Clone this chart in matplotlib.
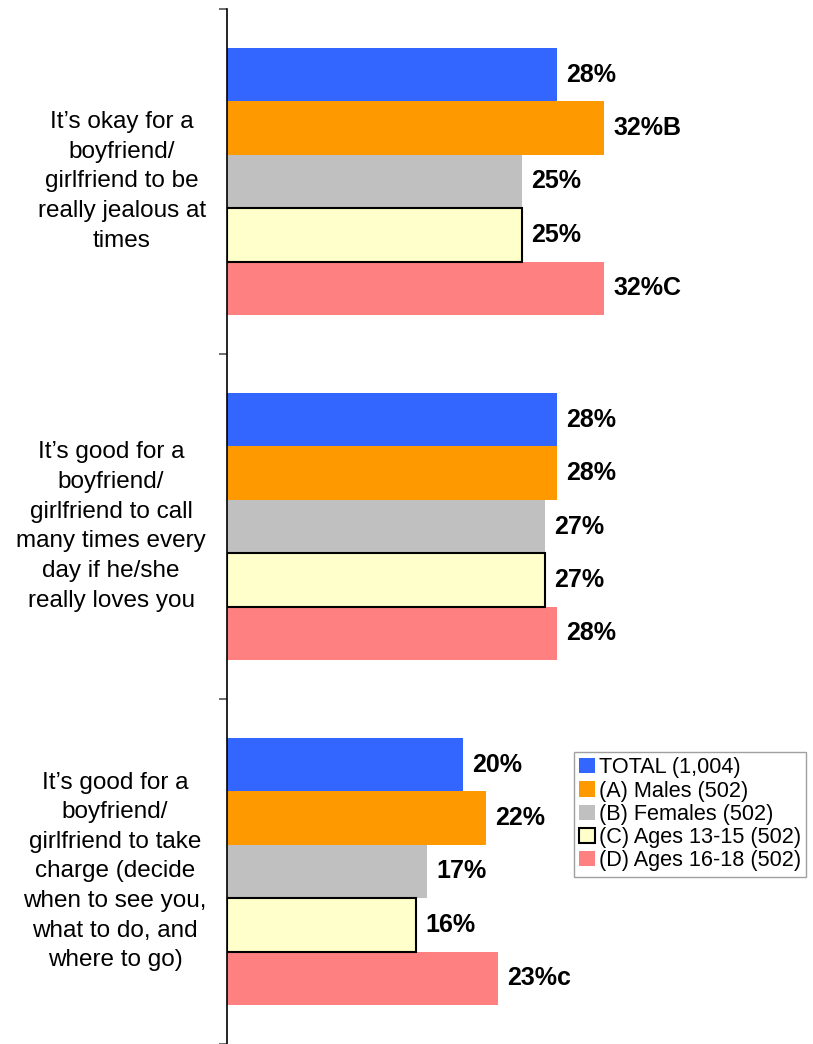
import numpy as np
import matplotlib
matplotlib.use("Agg")
from matplotlib import pyplot as plt
import matplotlib.transforms as mtransforms

plt.rcParams['font.family'] = ['Liberation Sans', 'DejaVu Sans']

# data
questions = [
    "It\u2019s okay for a\nboyfriend/\ngirlfriend to be\nreally jealous at\ntimes",
    "It\u2019s good for a\nboyfriend/\ngirlfriend to call\nmany times every\nday if he/she\nreally loves you",
    "It\u2019s good for a\nboyfriend/\ngirlfriend to take\ncharge (decide\nwhen to see you,\nwhat to do, and\nwhere to go)",
]
series_names = ["TOTAL (1,004)", "(A) Males (502)", "(B) Females (502)",
                "(C) Ages 13-15 (502)", "(D) Ages 16-18 (502)"]
total = [28, 28, 20]
males = [32, 28, 22]
females = [25, 27, 17]
ages_13_15 = [25, 27, 16]
ages_16_18 = [32, 28, 23]
sig_letters = [
    ["", "B", "", "", "C"],
    ["", "", "", "", ""],
    ["", "", "", "", "c"],
]

series = [total, males, females, ages_13_15, ages_16_18]
colors = ['#3366FF', '#FF9900', '#C0C0C0', '#FFFFCC', '#FF8080']
edges = [None, None, None, 'black', None]

fig = plt.figure(figsize=(8.13, 10.44), dpi=100)
ax = fig.add_axes([227 / 813, 0, 582 / 813, 1 - 9 / 1044])

bar_h = 0.1547
for k, (vals, col, ec) in enumerate(zip(series, colors, edges)):
    ys = np.arange(len(questions)) + 0.5 + (k - 2) * bar_h
    if ec:
        ax.barh(ys, vals, height=bar_h, color=col, edgecolor=ec, linewidth=1.5,
                label=series_names[k], zorder=3)
    else:
        ax.barh(ys, vals, height=bar_h, color=col, linewidth=0,
                label=series_names[k], zorder=2)
    for i, v in enumerate(vals):
        ax.text(v + 0.8, ys[i], f"{v}%{sig_letters[i][k]}", ha='left', va='center',
                fontsize=18, fontweight='bold', color='black')

ax.set_xlim(0, 49.4)
ax.set_ylim(3, 0)
for s in ['top', 'right', 'bottom']:
    ax.spines[s].set_visible(False)
ax.spines['left'].set_color('black')
ax.spines['left'].set_linewidth(1.2)
ax.set_xticks([])
ax.set_yticks([0, 1, 2, 3])
ax.set_yticklabels([])
ax.tick_params(axis='y', direction='out', length=6, width=1.2, color='#555555')

# category labels
trans = mtransforms.blended_transform_factory(fig.transFigure, ax.transData)
label_x = [122, 111, 115]
for i, q in enumerate(questions):
    ax.text(label_x[i] / 813, i + 0.5, q, transform=trans, ha='center', va='center',
            fontsize=17.5, linespacing=1.45)

leg = fig.legend(loc='upper left', bbox_to_anchor=(574 / 813, 1 - 752 / 1044),
                 fontsize=15.6, frameon=True, fancybox=False, borderaxespad=0,
                 handlelength=0.7, handleheight=0.7, handletextpad=0.2,
                 labelspacing=0.1, borderpad=0.25)
leg.get_frame().set_edgecolor('#888888')
leg.get_frame().set_linewidth(1)

plt.savefig('out.png', dpi=100)
